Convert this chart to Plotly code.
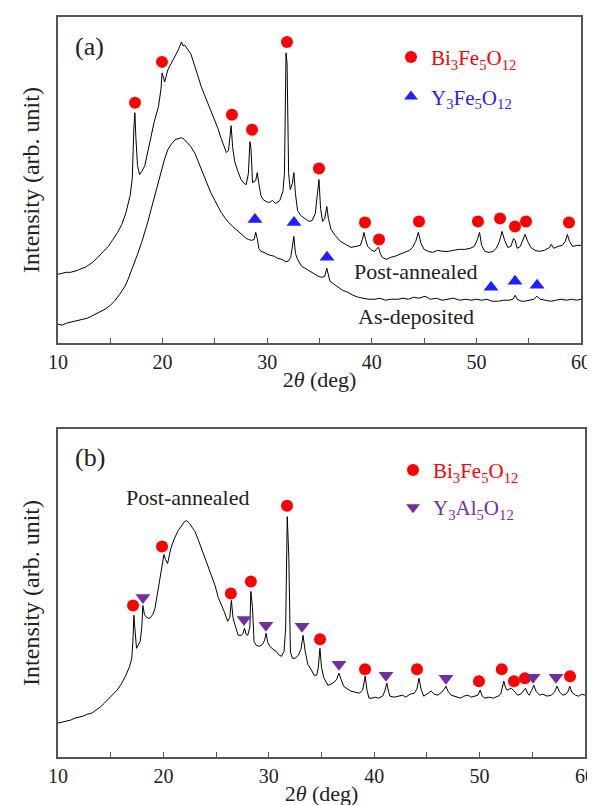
import plotly.graph_objects as go

# ---------------- Panel (a) data ----------------
pa_x = [10.0, 10.4, 10.8, 11.2, 11.6, 11.9, 12.3, 12.6, 12.9, 13.3, 13.8, 14.3, 14.8, 15.2, 15.7, 16.1,
        16.5, 16.9, 17.1, 17.25, 17.35, 17.45, 17.6, 17.8, 18.0, 18.3, 18.6, 18.9, 19.2, 19.6, 19.85,
        19.95, 20.05, 20.2, 20.5, 20.8, 21.2, 21.5, 21.8, 21.95, 22.1, 22.4, 22.7, 23.1, 23.4, 23.7,
        24.0, 24.3, 24.6, 25.0, 25.3, 25.6, 25.9, 26.1, 26.3, 26.45, 26.55, 26.7, 26.9, 27.2, 27.5,
        27.8, 28.0, 28.2, 28.35, 28.45, 28.6, 28.9, 29.05, 29.2, 29.4, 29.6, 29.9, 30.2, 30.5, 30.8,
        31.2, 31.5, 31.65, 31.8, 31.9, 32.05, 32.2, 32.4, 32.55, 32.7, 32.9, 33.2, 33.6, 34.0, 34.3,
        34.6, 34.8, 34.95, 35.1, 35.3, 35.5, 35.7, 35.85, 36.1, 36.5, 37.0, 37.5, 38.0, 38.5, 38.9,
        39.1, 39.25, 39.4, 39.6, 40.0, 40.3, 40.5, 40.65, 40.8, 41.0, 41.4, 41.8, 42.2, 42.7, 43.2,
        43.6, 43.9, 44.2, 44.45, 44.7, 45.0, 45.4, 45.8, 46.3, 46.8, 47.3, 47.8, 48.3, 48.9, 49.4,
        49.8, 50.1, 50.3, 50.5, 50.8, 51.2, 51.6, 51.9, 52.2, 52.45, 52.7, 53.0, 53.3, 53.55, 53.7,
        53.9, 54.2, 54.45, 54.65, 54.9, 55.2, 55.6, 56.0, 56.5, 57.0, 57.15, 57.4, 57.8, 58.2, 58.5,
        58.7, 58.9, 59.2, 59.6, 60.0]
pa_y = [69, 70, 71, 71, 72, 73, 75, 76, 78, 81, 86, 91, 97, 103, 111, 119,
        131, 148, 165, 215, 231, 205, 178, 169, 172, 178, 192, 207, 222, 237, 255,
        271, 266, 262, 274, 280, 288, 294, 302, 298, 299, 295, 290, 277, 266, 257,
        249, 241, 233, 224, 215, 205, 196, 191, 193, 212, 218, 196, 182, 172, 164,
        160, 159, 170, 202, 195, 161, 163, 171, 160, 148, 144, 142, 141, 143, 140,
        143, 152, 170, 291, 280, 170, 154, 160, 171, 150, 133, 128, 125, 122, 123,
        130, 150, 164, 135, 122, 125, 137, 125, 114, 108, 102, 99, 96, 97, 98,
        104, 111, 104, 97, 93, 92, 95, 96, 90, 86, 84, 86, 87, 89, 91,
        93, 96, 102, 111, 100, 94, 92, 91, 93, 92, 92, 93, 94, 94, 95,
        97, 104, 111, 98, 92, 91, 92, 95, 102, 112, 103, 96, 97, 105, 103,
        95, 97, 104, 109, 102, 96, 93, 92, 93, 96, 99, 95, 97, 98, 102,
        109, 102, 97, 98, 98]

ad_x = [10.0, 10.4, 10.8, 11.2, 11.6, 12.0, 12.4, 12.8, 13.2, 13.6, 14.0, 14.5, 15.0, 15.4, 15.9, 16.4,
        16.7, 17.0, 17.3, 17.6, 18.0, 18.3, 18.6, 18.9, 19.2, 19.5, 19.9, 20.2, 20.5, 20.8, 21.2,
        21.5, 21.8, 22.1, 22.4, 22.7, 23.1, 23.4, 23.7, 24.0, 24.3, 24.6, 25.0, 25.3, 25.6, 26.0,
        26.3, 26.7, 27.0, 27.2, 27.6, 28.0, 28.2, 28.5, 28.75, 28.9, 29.05, 29.2, 29.4, 29.7, 30.0,
        30.4, 30.7, 31.0, 31.4, 31.7, 32.0, 32.25, 32.45, 32.55, 32.7, 32.9, 33.3, 33.6, 33.9, 34.3,
        34.6, 34.9, 35.2, 35.5, 35.7, 35.85, 36.0, 36.4, 36.8, 37.2, 37.7, 38.2, 38.7, 39.2, 39.7,
        40.3, 40.8, 41.3, 41.8, 42.5, 43.0, 43.5, 44.0, 44.5, 45.1, 45.6, 46.2, 46.7, 47.3, 47.8,
        48.4, 49.0, 49.5, 50.0, 50.5, 51.0, 51.5, 52.1, 52.6, 53.1, 53.5, 53.7, 53.9, 54.3, 54.6,
        55.0, 55.5, 55.8, 56.1, 56.6, 57.1, 57.6, 58.1, 58.6, 59.1, 59.6, 60.0]
ad_y = [19, 18, 20, 21, 22, 23, 24, 25, 27, 29, 31, 34, 38, 42, 49, 57,
        64, 72, 80, 89, 101, 111, 122, 134, 146, 157, 174, 185, 194, 199, 204,
        205, 206, 204, 201, 197, 190, 182, 174, 166, 158, 151, 143, 137, 131, 125,
        121, 117, 114, 112, 108, 105, 104, 103, 104, 111, 105, 95, 92, 91, 89,
        88, 87, 85, 84, 82, 82, 86, 103, 107, 90, 84, 77, 75, 73, 71,
        69, 67, 66, 67, 75, 68, 62, 59, 56, 53, 51, 48, 46, 45, 44,
        44, 45, 43, 44, 44, 45, 44, 46, 45, 47, 44, 45, 43, 44, 45,
        43, 44, 43, 44, 43, 44, 42, 42, 43, 43, 44, 48, 44, 42, 42,
        43, 44, 47, 44, 43, 42, 43, 44, 43, 44, 43, 44]

# peak markers, panel (a)
a_bfo_x = [17.36, 19.94, 26.63, 28.55, 31.89, 34.95, 39.35, 40.69, 44.51, 50.15, 52.26, 53.69, 54.74, 58.85]
a_bfo_y = [241, 282, 229, 214, 302, 175, 121, 104, 122, 122, 125, 117, 122, 121]
a_yfo_x = [28.83, 32.56, 35.72, 51.4, 53.69, 55.8]
a_yfo_y = [124, 121, 86, 56, 62, 58]

# ---------------- Panel (b) data ----------------
pb_x = [10.0, 10.4, 10.8, 11.2, 11.6, 12.0, 12.4, 12.8, 13.2, 13.6, 14.0, 14.4, 14.8, 15.2, 15.6, 16.0,
        16.4, 16.8, 17.0, 17.1, 17.2, 17.3, 17.45, 17.6, 17.8, 17.95, 18.05, 18.2, 18.4, 18.7, 19.0,
        19.2, 19.5, 19.7, 19.95, 20.05, 20.2, 20.4, 20.7, 21.0, 21.4, 21.7, 22.0, 22.2, 22.5, 22.8,
        23.0, 23.3, 23.6, 23.9, 24.2, 24.5, 24.9, 25.2, 25.5, 25.8, 26.1, 26.3, 26.45, 26.6, 26.8,
        27.1, 27.4, 27.55, 27.7, 27.85, 28.0, 28.2, 28.3, 28.45, 28.6, 28.8, 29.1, 29.4, 29.6, 29.75,
        29.9, 30.1, 30.4, 30.7, 31.0, 31.2, 31.45, 31.6, 31.75, 31.9, 32.05, 32.25, 32.5, 32.8, 33.05,
        33.25, 33.45, 33.7, 34.0, 34.3, 34.55, 34.7, 34.85, 35.0, 35.2, 35.6, 35.9, 36.2, 36.45, 36.65,
        36.85, 37.1, 37.5, 37.8, 38.2, 38.6, 38.9, 39.05, 39.15, 39.3, 39.5, 39.8, 40.1, 40.4, 40.8,
        41.0, 41.2, 41.35, 41.5, 41.9, 42.3, 42.7, 43.0, 43.4, 43.8, 44.05, 44.25, 44.45, 44.7, 45.0,
        45.4, 45.7, 46.05, 46.4, 46.65, 46.8, 47.0, 47.3, 47.7, 48.2, 48.5, 48.9, 49.2, 49.55, 49.85,
        50.05, 50.25, 50.5, 50.9, 51.3, 51.75, 52.0, 52.15, 52.3, 52.45, 52.6, 52.8, 53.0, 53.3, 53.6,
        53.9, 54.15, 54.35, 54.55, 54.7, 54.95, 55.15, 55.35, 55.7, 56.0, 56.4, 56.8, 57.1, 57.35, 57.6,
        57.9, 58.2, 58.4, 58.55, 58.75, 59.1, 59.4, 59.7, 60.0]
pb_y = [34, 35, 36, 37, 39, 40, 41, 43, 44, 47, 50, 54, 58, 62, 67, 73,
        81, 91, 99, 115, 142, 128, 109, 112, 116, 130, 152, 143, 140, 139, 143,
        149, 169, 179, 199, 203, 198, 194, 209, 218, 227, 232, 236, 237, 234, 229,
        226, 218, 209, 200, 192, 183, 172, 160, 153, 145, 136, 140, 157, 140, 132,
        122, 122, 124, 129, 123, 122, 130, 166, 150, 116, 112, 111, 113, 117, 124,
        115, 111, 108, 106, 102, 101, 106, 130, 241, 200, 105, 99, 99, 102, 108,
        122, 106, 93, 88, 82, 82, 90, 109, 90, 80, 72, 73, 75, 78, 84,
        78, 71, 68, 66, 65, 64, 67, 76, 81, 68, 59, 59, 60, 59, 61,
        66, 74, 66, 61, 60, 61, 62, 60, 63, 64, 68, 79, 68, 61, 63,
        66, 63, 62, 65, 68, 71, 66, 62, 61, 59, 61, 62, 60, 61, 62,
        67, 61, 59, 60, 59, 61, 63, 70, 76, 70, 67, 68, 69, 66, 62,
        63, 66, 69, 64, 62, 67, 72, 66, 62, 63, 61, 62, 65, 71, 65,
        62, 63, 66, 71, 65, 62, 61, 63, 62]

b_bfo_x = [17.12, 19.87, 26.4, 28.3, 31.73, 34.86, 39.13, 44.06, 49.94, 52.1, 53.26, 54.3, 58.58]
b_bfo_y = [152, 211, 164, 176, 252, 118, 88, 88, 76, 88, 76, 79, 81]
b_yag_x = [18.06, 27.65, 29.73, 33.15, 36.66, 41.12, 46.81, 55.07, 57.25]
b_yag_y = [160, 138, 132, 131, 93, 82, 79, 80, 80]

x_ticks = [10, 20, 30, 40, 50, 60]

# ---------------- styling ----------------
FONT = "Liberation Serif, Times New Roman, serif"
RED = "#ff0000"
BLUE = "#1f1fff"
PURPLE = "#7030a0"
AXC = "#555555"

fig = go.Figure()

fig.add_trace(go.Scatter(x=pa_x, y=pa_y, mode="lines", line=dict(color="black", width=1.0),
                         xaxis="x", yaxis="y", showlegend=False))
fig.add_trace(go.Scatter(x=ad_x, y=ad_y, mode="lines", line=dict(color="black", width=1.0),
                         xaxis="x", yaxis="y", showlegend=False))
fig.add_trace(go.Scatter(x=a_bfo_x, y=a_bfo_y, mode="markers", xaxis="x", yaxis="y",
                         marker=dict(symbol="circle", size=12, color=RED),
                         name='<span style="color:#ff0000">Bi<sub>3</sub>Fe<sub>5</sub>O<sub>12</sub></span>',
                         legend="legend", legendgroup="a1"))
fig.add_trace(go.Scatter(x=a_yfo_x, y=a_yfo_y, mode="markers", xaxis="x", yaxis="y",
                         marker=dict(symbol="triangle-up", size=13, color=BLUE),
                         name='<span style="color:#1f1fff">Y<sub>3</sub>Fe<sub>5</sub>O<sub>12</sub></span>',
                         legend="legend", legendgroup="a2"))

fig.add_trace(go.Scatter(x=pb_x, y=pb_y, mode="lines", line=dict(color="black", width=1.0),
                         xaxis="x2", yaxis="y2", showlegend=False))
fig.add_trace(go.Scatter(x=b_bfo_x, y=b_bfo_y, mode="markers", xaxis="x2", yaxis="y2",
                         marker=dict(symbol="circle", size=12, color=RED),
                         name='<span style="color:#ff0000">Bi<sub>3</sub>Fe<sub>5</sub>O<sub>12</sub></span>',
                         legend="legend2", legendgroup="b1"))
fig.add_trace(go.Scatter(x=b_yag_x, y=b_yag_y, mode="markers", xaxis="x2", yaxis="y2",
                         marker=dict(symbol="triangle-down", size=13, color=PURPLE),
                         name='<span style="color:#7030a0">Y<sub>3</sub>Al<sub>5</sub>O<sub>12</sub></span>',
                         legend="legend2", legendgroup="b2"))

W, H = 595, 805
ML, MR, MT, MB = 50, 18, 7, 56
PW = W - ML - MR
PH = H - MT - MB


def px(xp):
    return (xp - ML) / PW


def py(yp):
    return (H - MB - yp) / PH


xcommon = dict(range=[10, 60], tickvals=x_ticks, ticktext=[str(t) for t in x_ticks],
               ticks="inside", ticklen=5, tickwidth=1.2, tickcolor=AXC,
               minor=dict(dtick=5, ticks="inside", ticklen=5, tickwidth=1.2, tickcolor=AXC),
               showline=True, mirror=True, linecolor=AXC, linewidth=1.5,
               showgrid=False, zeroline=False,
               tickfont=dict(family=FONT, size=20, color="#222"),
               title=dict(text="2<i>θ</i> (deg)", font=dict(family=FONT, size=22, color="#222"), standoff=0))
ycommon = dict(showticklabels=False, ticks="", showline=True, mirror=True, linecolor=AXC, linewidth=1.5,
               showgrid=False, zeroline=False,
               title=dict(text="Intensity (arb. unit)", font=dict(family=FONT, size=24, color="#222"), standoff=10))

fig.update_layout(
    width=W, height=H,
    margin=dict(l=ML, r=MR, t=MT, b=MB),
    paper_bgcolor="white", plot_bgcolor="white",
    font=dict(family=FONT, size=20, color="#222"),
    xaxis=dict(domain=[0, (573 - ML) / PW], anchor="y", **xcommon),
    yaxis=dict(domain=[py(334), 1], anchor="x", range=[0, 327], **ycommon),
    xaxis2=dict(domain=[0, 1], anchor="y2", **xcommon),
    yaxis2=dict(domain=[0, py(420)], anchor="x2", range=[0, 329], **ycommon),
    legend=dict(x=px(383), y=py(27), xanchor="left", yanchor="top", bgcolor="rgba(0,0,0,0)",
                font=dict(family=FONT, size=21), tracegroupgap=9, itemsizing="constant"),
    legend2=dict(x=px(385), y=py(441), xanchor="left", yanchor="top", bgcolor="rgba(0,0,0,0)",
                 font=dict(family=FONT, size=21), tracegroupgap=7, itemsizing="constant"),
    showlegend=True,
)

annots = [
    ("(a)", 81, 37, 26),
    ("Post-annealed", 407, 262, 22),
    ("As-deposited", 408, 307, 22),
    ("(b)", 82, 449, 26),
    ("Post-annealed", 179, 489, 22),
]
for txt, x, y, s in annots:
    fig.add_annotation(text=txt, x=px(x), y=py(y), xref="paper", yref="paper", showarrow=False,
                       xanchor="center", yanchor="middle", font=dict(family=FONT, size=s, color="#222"))

fig.write_html("out.html")
